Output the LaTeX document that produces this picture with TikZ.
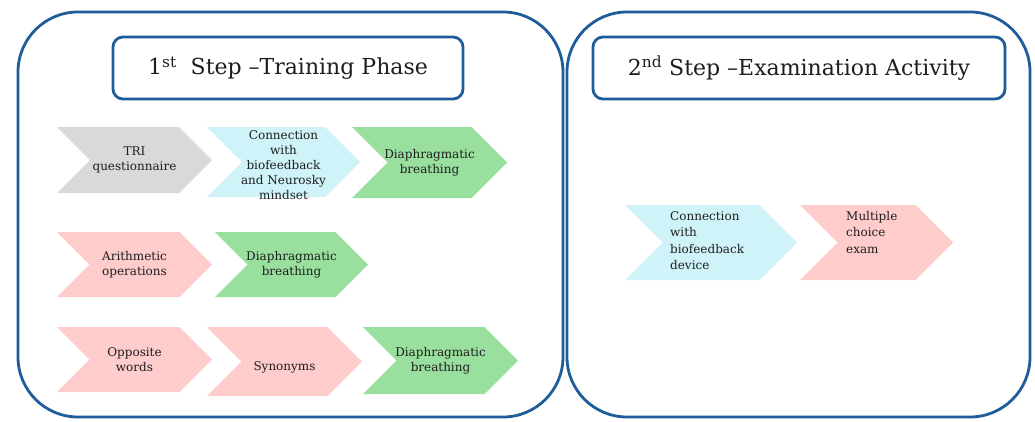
\documentclass[tikz,border=0pt]{standalone}
\usepackage{fontspec}
\setmainfont{DejaVu Serif}
\definecolor{blueline}{HTML}{1F5C9A}
\definecolor{grayf}{HTML}{D9D9D9}
\definecolor{cyanf}{HTML}{CFF3F8}
\definecolor{greenf}{HTML}{99E09E}
\definecolor{pinkf}{HTML}{FFCCCC}
\definecolor{textc}{HTML}{1E1E1E}
\tikzset{
  bigbox/.style={draw=blueline, line width=2.8pt, rounded corners=60pt, inner sep=0pt},
  titlebox/.style={draw=blueline, line width=2.8pt, rounded corners=10pt, inner sep=0pt, text=textc, font=\fontsize{22}{26}\selectfont},
  chevtext/.style={text=textc, align=center, inner sep=0pt, font=\fontsize{12}{15}\selectfont},
  chevtextl/.style={text=textc, align=left, inner sep=0pt, anchor=north west, font=\fontsize{12}{16.5}\selectfont},
}
% #1 name, #2 x-left, #3 x-right, #4 y-top, #5 y-bot, #6 colour, #7 text, #8 vertical text offset
\newcommand\mychevron[8]{%
  \fill[#6] (#2,#4) -- ({#3-(#5-#4)/2},#4) -- (#3,{(#4+#5)/2}) -- ({#3-(#5-#4)/2},#5) -- (#2,#5) -- ({#2+(#5-#4)/2},{(#4+#5)/2}) -- cycle;
  \node[chevtext] (#1) at ({(#2+#3)/2},{(#4+#5)/2+#8}) {#7};}
\newcommand\mychevronl[8]{%
  \fill[#6] (#2,#4) -- ({#3-(#5-#4)/2},#4) -- (#3,{(#4+#5)/2}) -- ({#3-(#5-#4)/2},#5) -- (#2,#5) -- ({#2+(#5-#4)/2},{(#4+#5)/2}) -- cycle;
  \node[chevtextl] (#1) at (#8,211) {#7};}
\begin{document}
\begin{tikzpicture}[x=1pt, y=-1pt]
\useasboundingbox (0,0) rectangle (1035,421);
\fill[white] (0,0) rectangle (1035,421);
\node[bigbox, minimum width=545pt, minimum height=405pt] (leftbox) at (290.5,214.5) {};
\node[bigbox, minimum width=463pt, minimum height=405pt] (rightbox) at (798.5,214.5) {};
\node[titlebox, minimum width=350pt, minimum height=62pt] (title1) at (288,68) {1\textsuperscript{st}\ \ Step –Training Phase};
\node[titlebox, minimum width=412pt, minimum height=62pt] (title2) at (799,68) {2\textsuperscript{nd} Step –Examination Activity};
% row 1
\mychevron{tri}{57}{212}{127}{193}{grayf}{TRI\\questionnaire}{0}
\mychevron{conn}{207}{360}{127}{197}{cyanf}{Connection\\with\\biofeedback\\and Neurosky\\mindset}{3}
\mychevron{dia1}{352}{507}{127}{198}{greenf}{Diaphragmatic\\breathing}{0}
% row 2
\mychevron{arith}{57}{212}{232}{297}{pinkf}{Arithmetic\\operations}{0}
\mychevron{dia2}{215}{368}{232}{297}{greenf}{Diaphragmatic\\breathing}{0}
% row 3
\mychevron{opp}{57}{212}{327}{392}{pinkf}{Opposite\\words}{0}
\mychevron{syn}{207}{362}{327}{396}{pinkf}{Synonyms}{6}
\mychevron{dia3}{363}{518}{327}{394}{greenf}{Diaphragmatic\\breathing}{0}
% right side
\mychevronl{conn2}{625}{797}{205}{280}{cyanf}{Connection\\with\\biofeedback\\device}{670}
\mychevronl{mce}{800}{953}{205}{280}{pinkf}{Multiple\\choice\\exam}{846}
\end{tikzpicture}
\end{document}
